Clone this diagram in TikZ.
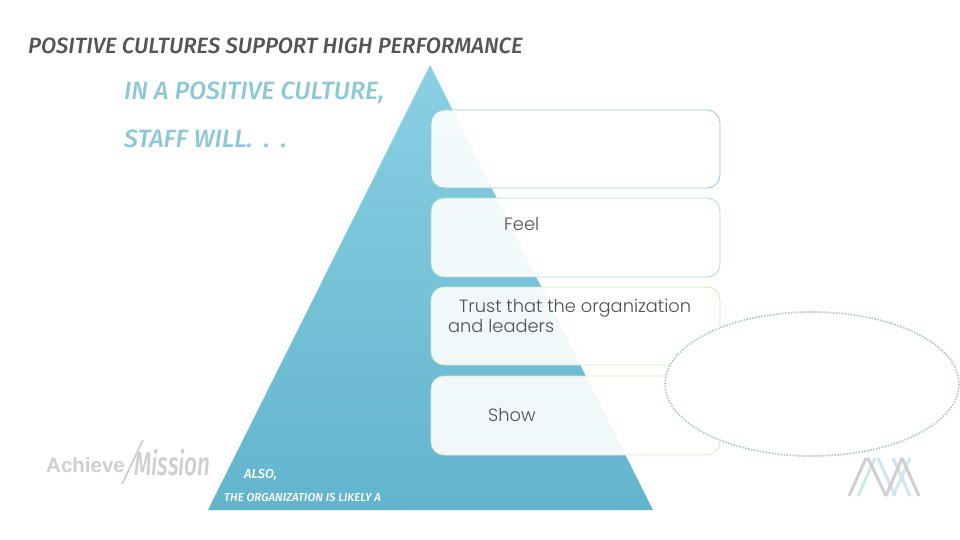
\documentclass[tikz,border=0pt]{standalone}
\usepackage{fontspec}
\setmainfont{Poppins Light}
\newfontfamily\handfont{Fira Sans Medium Italic}
\newfontfamily\logofont{Liberation Sans Bold}
\usetikzlibrary{positioning}
\definecolor{titlegray}{HTML}{555555}
\definecolor{headteal}{HTML}{8CC8D8}
\definecolor{pyrtop}{HTML}{8AD0E2}
\definecolor{pyrbottom}{HTML}{62B4CD}
\definecolor{edgeone}{HTML}{9CC6CF}
\definecolor{edgetwo}{HTML}{B2DFC6}
\definecolor{edgethree}{HTML}{D0E8B4}
\definecolor{edgefour}{HTML}{E8E4BC}
\definecolor{ringgray}{HTML}{ABC8C8}
\definecolor{logogray}{HTML}{CFCFCF}
\definecolor{logoblue}{HTML}{CFE6EC}
\definecolor{bodygray}{HTML}{505050}
\tikzset{
	stepbox/.style={rounded corners=13pt, line width=0.8pt, fill=white, fill opacity=0.9},
	bodytext/.style={inner sep=0pt, anchor=base west, text=bodygray, font=\fontsize{17.8}{20}\selectfont},
	handtext/.style={inner sep=0pt, anchor=base west, font=\handfont},
}
\begin{document}
\begin{tikzpicture}[x=1pt, y=-1pt]
	\useasboundingbox (0, 0) rectangle (960, 540);
	\fill[white] (0, 0) rectangle (960, 540);
	% pyramid
	\shade[top color=pyrtop, bottom color=pyrbottom] (430, 65)--(653, 510)--(208, 510)--cycle;
	% boxes
	\draw[stepbox, draw=edgeone] (431, 110) rectangle (720, 188);
	\draw[stepbox, draw=edgetwo] (431, 198) rectangle (720, 277);
	\draw[stepbox, draw=edgethree] (431, 287) rectangle (720, 365);
	\draw[stepbox, draw=edgefour] (431, 376) rectangle (720, 455);
	% ellipse over the boxes
	\draw[draw=ringgray, fill=white, line width=1.7pt, dash pattern=on 1.6pt off 1.4pt] (812, 384) ellipse [x radius=147, y radius=72];
	% texts
	\node[handtext, text=titlegray, font=\handfont\fontsize{22.1}{26}\selectfont] (title) at (28, 54) {POSITIVE CULTURES SUPPORT HIGH PERFORMANCE};
	\node[handtext, text=headteal, font=\handfont\fontsize{25}{30}\selectfont] (headone) at (124, 100) {IN A POSITIVE CULTURE,};
	\node[handtext, text=headteal, font=\handfont\fontsize{25}{30}\selectfont] (headtwo) at (124, 148) {STAFF WILL.\hspace*{5pt} .\hspace*{5pt} .};
	\node[bodytext] (feel) at (504, 230) {Feel};
	\node[bodytext, align=left] (trust) at (448, 332) {\hspace*{11pt}Trust that the organization\\and leaders};
	\node[bodytext] (show) at (488, 421) {Show};
	\node[handtext, text=white, font=\handfont\fontsize{13}{15}\selectfont] (also) at (244, 478) {ALSO,};
	\node[handtext, text=white, font=\handfont\fontsize{11.5}{14}\selectfont] (likely) at (224, 501) {THE ORGANIZATION IS LIKELY A};
	% left logo
	\node[inner sep=0pt, anchor=base west, text=logogray, font=\logofont\fontsize{20.5}{24}\selectfont] (achieve) at (46, 472) {Achieve};
	\draw[logogray, line width=1.8pt] (122, 484)--(143, 440);
	\node[inner sep=0pt, anchor=base west, text=logogray, xscale=0.68, font=\handfont\fontsize{33}{34}\selectfont] (mission) at (134, 475) {Mission};
	% right logo
	\draw[logoblue, line width=3pt] (858, 496)--(875, 458) (878, 458)--(895, 496) (893, 496)--(910, 458) (893, 458)--(910, 496);
	\draw[logogray, line width=3pt] (849, 496)--(866, 458) (868, 458)--(886, 496) (886, 496)--(902, 458) (902, 458)--(919, 496);
\end{tikzpicture}
\end{document}
